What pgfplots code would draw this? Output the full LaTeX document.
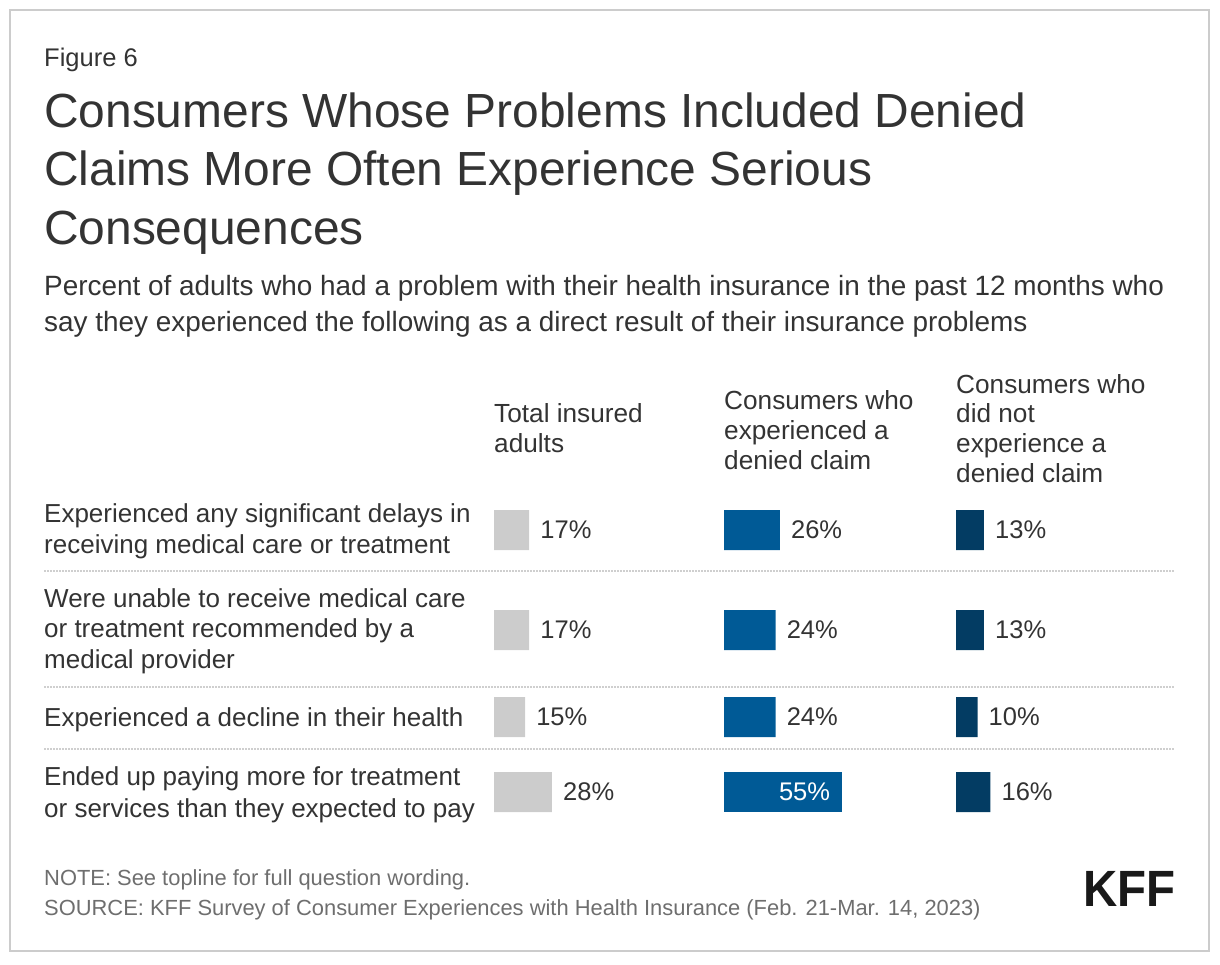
\documentclass[border=0pt]{standalone}
\usepackage{fontspec}
\setmainfont{Liberation Sans}
\usepackage{pgfplots}
\pgfplotsset{compat=1.18}
\definecolor{txt}{HTML}{333333}
\definecolor{foot}{HTML}{6E6E6E}
\definecolor{cgrey}{HTML}{CCCCCC}
\definecolor{cblue}{HTML}{005A96}
\definecolor{cnavy}{HTML}{033C63}
\definecolor{frame}{HTML}{CCCCCC}
\definecolor{dots}{HTML}{CFCFCF}
\newcommand{\fs}[1]{\fontsize{#1}{#1}\selectfont}
\pgfplotsset{
  colbar/.style={
    xbar, bar width=40pt, bar shift=0pt,
    y dir=reverse, xmin=0, xmax=60, ymin=490, ymax=830,
    y=1pt, axis lines=none, clip=false, anchor=north west,
    enlargelimits=false, ticks=none,
    /pgf/number format/assume math mode=true,
  },
  outlab/.style={
    nodes near coords={\pgfmathprintnumber[assume math mode=true]{\pgfplotspointmeta}\%},
    point meta=x,
    every node near coord/.append style={anchor=west, inner sep=0pt, xshift=11pt,
      font=\fs{25.5}, text=txt},
  },
}
\begin{document}
\begin{tikzpicture}[x=1pt,y=1pt]
\path[use as bounding box] (0,0) rectangle (1220,-964);
\draw[frame, line width=1.5pt] (10,-10) rectangle (1209,-951);

% header texts
\node[anchor=base west, inner sep=0, font=\fs{25.5}, text=txt] at (44,-66) {Figure 6};
\node[anchor=base west, inner sep=0, font=\fs{47.9}, text=txt] at (44,-127) {Consumers Whose Problems Included Denied};
\node[anchor=base west, inner sep=0, font=\fs{47.9}, text=txt] at (44,-185.5) {Claims More Often Experience Serious};
\node[anchor=base west, inner sep=0, font=\fs{47.9}, text=txt] at (44,-244) {Consequences};
\node[anchor=base west, inner sep=0, font=\fs{27.9}, text=txt] at (44,-295) {Percent of adults who had a problem with their health insurance in the past 12 months who};
\node[anchor=base west, inner sep=0, font=\fs{27.9}, text=txt] at (44,-331) {say they experienced the following as a direct result of their insurance problems};

% column headers
\foreach \t/\y in {Total insured/422, adults/452}
  \node[anchor=base west, inner sep=0, font=\fs{26.2}, text=txt] at (494,-\y) {\t};
\foreach \t/\y in {Consumers who/409, experienced a/439, denied claim/469}
  \node[anchor=base west, inner sep=0, font=\fs{26.2}, text=txt] at (724,-\y) {\t};
\foreach \t/\y in {Consumers who/393, did not/422, experience a/452, denied claim/482}
  \node[anchor=base west, inner sep=0, font=\fs{26.2}, text=txt] at (956,-\y) {\t};

% row labels
\foreach \t/\y in {Experienced any significant delays in/522, receiving medical care or treatment/553,
  Were unable to receive medical care/607, or treatment recommended by a/637.5, medical provider/668,
  Experienced a decline in their health/726,
  Ended up paying more for treatment/785, or services than they expected to pay/817}
  \node[anchor=base west, inner sep=0, font=\fs{26}, text=txt] at (44,-\y) {\t};

% separators
\foreach \y in {571,687,749}
  \draw[dots, line width=1.5pt, dash pattern=on 1.5pt off 1.5pt] (44,-\y) -- (1175,-\y);

% Column 1: Total insured adults
\begin{axis}[colbar, x=2.07pt, at={(494pt,-490pt)}]
\addplot[fill=cgrey, draw=none, outlab] coordinates {(17,530) (17,630) (15,717) (28,792)};
\end{axis}

% Column 2: experienced a denied claim
\begin{axis}[colbar, x=2.15pt, at={(724pt,-490pt)}]
\addplot[fill=cblue, draw=none, outlab] coordinates {(26,530) (24,630) (24,717)};
\addplot[fill=cblue, draw=none,
  nodes near coords={\pgfmathprintnumber[assume math mode=true]{\pgfplotspointmeta}\%}, point meta=x,
  every node near coord/.append style={anchor=east, inner sep=0pt, xshift=-12pt,
    font=\fs{25.5}, text=white}] coordinates {(55,792)};
\end{axis}

% Column 3: did not experience a denied claim
\begin{axis}[colbar, x=2.15pt, at={(956pt,-490pt)}]
\addplot[fill=cnavy, draw=none, outlab] coordinates {(13,530) (13,630) (10,717) (16,792)};
\end{axis}

% footer
\node[anchor=base west, inner sep=0, font=\fs{21.9}, text=foot] at (44,-885) {NOTE: See topline for full question wording.};
\node[anchor=base west, inner sep=0, font=\fs{21.9}, text=foot] at (44,-915.5) {SOURCE: KFF Survey of Consumer Experiences with Health Insurance (Feb. 21-Mar. 14, 2023)};
\node[anchor=base east, inner sep=0, font=\bfseries\fs{51}, text=black!90, xscale=0.93] at (1176,-906) {KFF};
\end{tikzpicture}
\end{document}
